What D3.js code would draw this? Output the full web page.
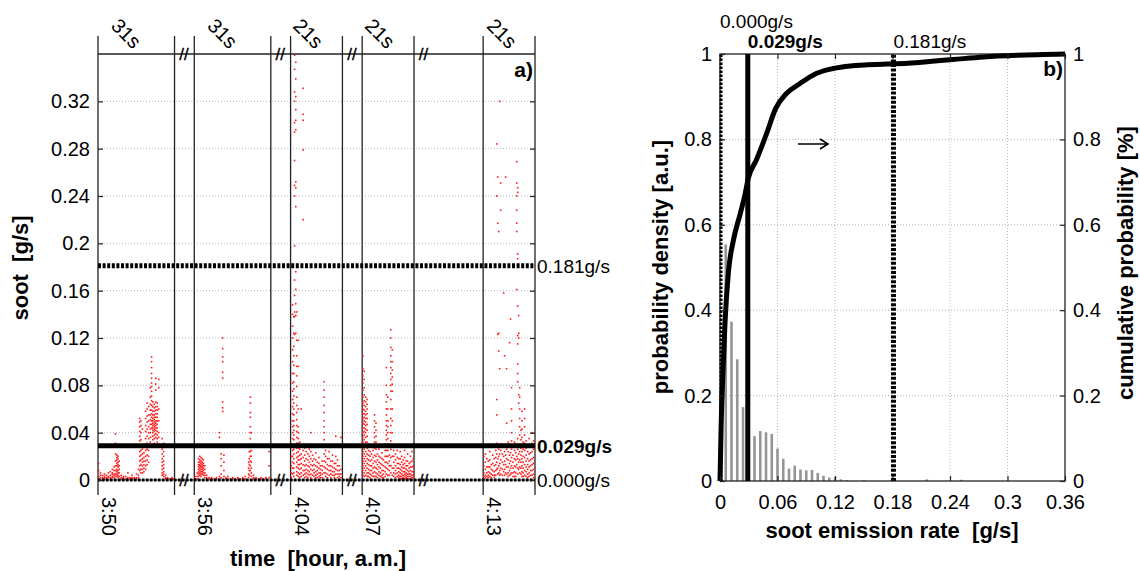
<!DOCTYPE html>
<html><head><meta charset="utf-8">
<script src="https://cdn.jsdelivr.net/npm/d3@7"></script>
<style>html,body{margin:0;padding:0;background:#fff;}svg{display:block;font-family:"Liberation Sans",Arial,sans-serif;}</style>
</head><body><svg id="c" width="1140" height="571"></svg>
<script>
// ---------------- DATA ----------------
const segDurations = [31, 31, 21, 21, 21];
const segDurationLabels = ["31s", "31s", "21s", "21s", "21s"];
const segStartLabels = ["3:50", "3:56", "4:04", "4:07", "4:13"];
const sootTicks = [0, 0.04, 0.08, 0.12, 0.16, 0.2, 0.24, 0.28, 0.32];
const thresholdValues = [0.181, 0.029, 0.000];
const thresholdLabels = ["0.181g/s", "0.029g/s", "0.000g/s"];

// each column: [seconds from segment start, soot values (g/s)...]
const seg1 = [
[0.3,.014,.008,.003,.001],[1.0,.004,.002,.006],[1.8,.002,.001,.004],[2.6,.003,.001,.005,.002],
[3.4,.002,.004,.001],[4.2,.006,.002,.003],[5.0,.004,.001,.007,.002],[5.8,.003,.006,.009,.002,.005],
[6.5,.005,.008,.004,.011,.002],[7.1,.039,.031,.022,.016,.012,.008,.005,.003],
[7.6,.021,.019,.017,.014,.012,.009,.007,.005,.003],[8.1,.02,.018,.015,.013,.011,.008,.006,.004,.002],
[8.6,.016,.012,.009,.006,.003],[9.4,.004,.002,.001],[10.3,.002,.001,.003],[11.2,.001,.003],
[12.1,.006,.002,.001],[13.0,.002,.001],[13.8,.001,.004,.002],[14.7,.002,.001],[15.6,.005,.002,.001],
[16.4,.009,.004,.002],[16.9,.052,.049,.045,.041,.037,.033,.028,.024,.02,.016,.012,.008],
[17.4,.05,.046,.04,.034,.029,.025,.021,.017,.013,.009,.006],[18.0,.043,.03,.026,.022,.018,.015,.012,.009,.006],
[18.6,.028,.023,.019,.016,.013,.01,.007],[19.3,.058,.052,.046,.041,.035,.03,.025,.02,.016,.012,.009],
[19.9,.065,.06,.054,.049,.043,.037,.031,.026,.021,.017,.013],[20.5,.062,.055,.05,.045,.04,.035,.03,.025,.02,.015],
[21.2,.078,.07,.064,.059,.055,.051,.047,.043,.04,.036,.032,.028],
[21.7,.104,.1,.095,.09,.086,.082,.079,.075,.071,.067,.063,.059,.056,.053,.05,.047,.044],
[22.2,.066,.062,.058,.055,.052,.05,.048,.046,.044,.042,.04,.037,.034],
[22.8,.064,.061,.058,.055,.053,.051,.049,.047,.045,.043,.041,.038,.035,.031],
[23.4,.086,.081,.076,.066,.062,.059,.056,.053,.05,.048,.046,.044,.042,.039,.036],
[24.0,.065,.062,.059,.056,.053,.05,.047,.044,.041,.038,.035,.032],[24.6,.085,.078,.06,.05,.04,.036,.03],
[26.0,.035,.03,.026,.022,.018,.015,.012,.009,.006,.004],[26.6,.031,.028,.024,.02,.016,.013,.01,.007,.005,.003],
[27.4,.004,.002,.001],[28.2,.001,.002],[29.1,.001],[30.0,.001,.002],[30.7,.001]
];
const seg2 = [
[0.4,.003,.001],[1.2,.006,.003,.001],[1.7,.018,.015,.013,.011,.009,.007,.005,.003],
[2.2,.02,.017,.015,.013,.012,.01,.008,.006,.004],[2.7,.019,.016,.014,.012,.011,.009,.007,.005,.003],
[3.2,.018,.015,.013,.011,.009,.007,.005],[3.7,.017,.014,.012,.01,.008,.006,.004],[4.3,.012,.009,.006,.004,.002],
[5.0,.004,.002,.001],[6.0,.002,.001],[7.0,.001,.002],[8.0,.001],[9.0,.002,.001],[10.2,.04,.036,.003,.001],
[10.9,.022,.018,.012,.005,.002],[11.5,.12,.111,.104,.1,.091,.086,.066,.061,.058],[12.0,.021,.015,.008,.003],
[12.8,.002,.001],[13.6,.001,.003],[14.6,.001],[15.6,.002,.001],[16.6,.001],[17.6,.002,.001],[18.6,.001],
[19.6,.001,.002],[20.6,.003,.001],[22.0,.015,.01,.005,.002],[22.3,.03,.024,.018,.013,.008,.004],
[22.7,.07,.065,.057,.053,.045,.04,.035,.028,.024,.02,.016,.012,.008],[23.1,.04,.03,.025,.02,.015,.01,.006,.003],
[24.0,.004,.002,.001],[25.0,.001,.002],[26.0,.001],[27.0,.001,.002],[28.0,.001],[29.0,.002,.001],[30.3,.024,.012,.002]
];
const seg3 = [
[0.3,.03,.02,.012,.006,.002],
[0.8,.148,.14,.13,.12,.11,.1,.09,.082,.075,.068,.062,.056,.05,.045,.04,.035,.03,.025,.02,.015,.01,.005],
[1.3,.138,.124,.113,.105,.097,.09,.083,.077,.071,.065,.06,.055,.05,.046,.042,.038,.034,.03,.026,.022,.018,.014,.01,.006,.003],
[1.6,.359,.347,.328,.32,.302,.294,.27,.249,.24,.198,.169,.156,.142,.138,.123],
[2.1,.353,.339,.324,.313,.304,.296,.252,.247,.231,.176,.161,.149,.139,.124],
[2.5,.142,.118,.105,.096,.088,.079,.07,.063,.057,.051,.046,.041,.036,.031,.027,.023,.019,.015,.011,.007,.004],
[3.1,.118,.096,.06,.045,.04,.035,.031,.027,.024,.02,.017,.013,.01,.006,.003],
[3.7,.032,.026,.021,.017,.013,.009,.005,.002],[4.3,.06,.028,.022,.018,.014,.01,.006,.003],
[5.1,.331,.309,.304,.279,.22,.025,.019,.013,.008,.004],[5.7,.027,.021,.016,.012,.008,.005,.002],
[6.3,.03,.024,.018,.013,.009,.006,.003],[7.0,.022,.017,.012,.008,.005,.002],[7.6,.026,.02,.015,.011,.007,.004],
[8.2,.04,.024,.018,.013,.009,.005,.002],[8.9,.021,.016,.012,.008,.004],[9.5,.018,.013,.009,.006,.003],
[10.2,.023,.017,.012,.007,.004,.002],[10.8,.015,.011,.008,.005,.002],[11.5,.019,.014,.01,.006,.003],
[12.1,.012,.009,.006,.004,.002],[12.8,.016,.012,.008,.005,.002],
[13.6,.083,.076,.07,.063,.057,.05,.045,.04,.034,.028,.022,.016,.011,.006],
[14.2,.025,.02,.015,.01,.006,.003],[14.9,.018,.013,.009,.005,.002],[15.6,.024,.018,.012,.008,.004],
[16.3,.016,.012,.008,.005,.002],[17.0,.021,.016,.011,.007,.004],[17.7,.014,.01,.007,.004,.002],
[18.3,.037,.028,.02,.014,.009,.005],[19.0,.017,.012,.008,.005,.002],[19.7,.012,.008,.005,.003],[20.4,.036,.009,.005,.002]
];
const seg4 = [
[0.3,.105,.094,.088,.082,.076,.07,.065,.06,.056,.052,.048,.044,.04,.036,.032,.028,.024,.02,.016,.012,.008,.004],
[0.8,.092,.085,.078,.072,.067,.063,.059,.056,.053,.05,.047,.044,.041,.038,.034,.03,.026,.022,.018,.014,.01,.006,.003],
[1.4,.07,.066,.062,.058,.055,.052,.049,.046,.043,.04,.036,.032,.028,.024,.02,.016,.012,.008,.004],
[2.0,.068,.064,.06,.056,.052,.047,.042,.037,.032,.027,.022,.018,.014,.01,.006,.003],
[2.6,.03,.025,.021,.017,.013,.009,.006,.003],[3.2,.024,.02,.016,.012,.008,.005,.002],
[3.8,.028,.022,.017,.012,.008,.004],[4.4,.025,.019,.014,.01,.006,.003],
[5.0,.055,.05,.045,.04,.036,.032,.027,.021,.016,.011,.007,.003],[5.6,.048,.042,.037,.032,.026,.02,.015,.01,.006,.003],
[6.2,.022,.017,.013,.009,.005,.002],[6.8,.026,.02,.015,.011,.007,.004],[7.4,.019,.014,.01,.006,.003],
[8.0,.023,.018,.013,.008,.004,.002],[8.6,.017,.012,.008,.005,.002],[9.3,.03,.025,.02,.015,.011,.007,.003],
[9.8,.095,.08,.072,.066,.06,.055,.05,.046,.042,.038,.034,.03,.025,.02,.015,.01,.005],
[10.4,.07,.06,.05,.045,.04,.035,.03,.025,.02,.014,.009,.004],[11.0,.021,.016,.012,.008,.004],
[11.6,.127,.12,.112,.105,.1,.095,.09,.085,.08,.075,.068,.06,.052,.046,.04,.033,.026,.019,.012,.006],
[12.2,.11,.1,.093,.087,.081,.075,.06,.05,.04,.03,.02,.01,.004],[12.8,.025,.02,.015,.01,.006,.003],
[13.5,.022,.017,.012,.008,.005,.002],[14.2,.025,.019,.014,.01,.006,.003],[14.8,.018,.014,.01,.007,.004,.002],
[15.4,.024,.018,.013,.009,.006,.003,.001],[16.0,.02,.015,.011,.008,.005,.003,.001],
[16.6,.017,.013,.01,.007,.004,.002,.001],[17.2,.025,.019,.014,.01,.007,.005,.003,.001],
[17.8,.016,.012,.009,.006,.004,.002,.001],[18.4,.022,.016,.012,.008,.005,.003,.001],
[19.0,.014,.01,.007,.005,.003,.001],[19.6,.02,.015,.011,.008,.005,.003,.001],
[20.2,.024,.016,.011,.007,.004,.002],[20.7,.018,.012,.007,.004,.002]
];
const seg5 = [
[0.3,.02,.012,.006,.003,.001],[0.9,.022,.015,.009,.004,.002],[1.5,.028,.018,.011,.006,.003],
[2.1,.016,.011,.007,.004,.002],[2.7,.024,.017,.011,.006,.003],[3.3,.013,.009,.005,.002],
[3.9,.03,.021,.014,.008,.004],[4.5,.018,.012,.007,.004,.002],[5.1,.025,.019,.013,.008,.004],
[5.5,.284,.24,.068,.055,.031,.022,.015,.009],[5.9,.256,.217,.123,.028,.018,.01,.005],
[6.3,.21,.124,.109,.026,.02,.012,.006],[6.7,.32,.094,.03,.022,.014,.008,.004],[7.1,.251,.228,.025,.017,.01,.005],
[7.8,.03,.022,.015,.009,.004],[8.3,.158,.028,.02,.013,.007],[8.7,.105,.024,.016,.009,.004],
[9.1,.256,.03,.021,.013,.006],[9.5,.094,.048,.026,.018,.011,.005],[10.1,.032,.024,.017,.011,.006,.003],
[10.7,.116,.029,.021,.014,.008,.004],[11.1,.136,.03,.023,.016,.01,.005],
[11.5,.078,.06,.05,.04,.033,.026,.019,.012,.006],[12.1,.028,.021,.015,.01,.006,.003],
[12.7,.032,.025,.018,.012,.007,.003],[13.2,.03,.023,.017,.011,.006,.003],
[13.6,.269,.251,.24,.228,.217,.21,.161,.028,.02,.013],
[14.0,.247,.243,.191,.187,.147,.122,.115,.098,.09,.083,.035,.026,.018,.01,.005],
[14.4,.139,.124,.12,.072,.065,.03,.022,.015,.009],[14.8,.078,.07,.06,.052,.045,.038,.03,.024,.017,.011,.006],
[15.3,.042,.034,.027,.021,.015,.01,.005],[15.7,.058,.05,.043,.036,.03,.024,.018,.012,.007,.003],
[16.2,.032,.026,.02,.015,.01,.006,.003],[16.8,.06,.052,.045,.038,.031,.025,.019,.013,.008,.004],
[17.4,.033,.027,.021,.016,.011,.007,.003],[18.0,.03,.024,.018,.013,.009,.005,.002],
[18.6,.035,.028,.022,.016,.011,.006,.003],[19.2,.029,.023,.017,.012,.008,.004],
[19.8,.04,.031,.024,.018,.013,.008,.004],[20.4,.033,.026,.019,.014,.009,.005,.002]
];
const segments = [seg1, seg2, seg3, seg4, seg5];

// panel b
const rateTicks = [0, 0.06, 0.12, 0.18, 0.24, 0.3, 0.36];
const probTicks = [0, 0.2, 0.4, 0.6, 0.8, 1];
const histRate = [0.006,0.012,0.018,0.024,0.036,0.042,0.048,0.054,0.060,0.066,0.072,0.078,0.084,0.090,0.096,0.102,0.108,0.114,0.120,0.126,0.132,0.150,0.216,0.252];
const histDensity = [0.554,0.373,0.285,0.173,0.105,0.117,0.114,0.110,0.076,0.052,0.029,0.036,0.027,0.025,0.026,0.019,0.012,0.008,0.009,0.004,0.002,0.002,0.004,0.003];
const cumRate = [0,0.0012,0.003,0.0052,0.0087,0.014,0.021,0.026,0.0295,0.038,0.0487,0.058,0.0696,0.0835,0.101,0.118,0.136,0.17,0.183,0.2,0.216,0.243,0.275,0.31,0.36];
const cumProb = [0,0.13,0.25,0.37,0.487,0.564,0.625,0.67,0.709,0.752,0.814,0.872,0.908,0.931,0.955,0.966,0.972,0.976,0.977,0.979,0.982,0.987,0.993,0.997,1.0];
const vLineValues = [0.000, 0.029, 0.181];
const vLineLabels = ["0.000g/s", "0.029g/s", "0.181g/s"];

// ---------------- LAYOUT ----------------
const svg = d3.select("#c");
const FONT = "'Liberation Sans', Arial, sans-serif";
const gapSeconds = [8, 8, 8, 28];
const segStart = [];
{ let acc = 0; segDurations.forEach((d, i) => { segStart.push(acc); acc += d + (gapSeconds[i] || 0); }); }
const totalSec = segStart[segStart.length - 1] + segDurations[segDurations.length - 1];

const xA = d3.scaleLinear().domain([0, totalSec]).range([98, 535]);
const yA = d3.scaleLinear().domain([0, 0.36]).range([480, 54]);

const gA = svg.append("g");
gA.selectAll("line.grid").data(sootTicks.filter(d => d > 0)).join("line")
  .attr("x1", xA(0)).attr("x2", xA(totalSec)).attr("y1", d => yA(d)).attr("y2", d => yA(d))
  .attr("stroke", "#b5b5b5").attr("stroke-width", 1).attr("stroke-dasharray", "1,2");

const bounds = [];
segDurations.forEach((d, i) => { bounds.push(segStart[i]); bounds.push(segStart[i] + d); });
gA.selectAll("line.seg").data(bounds).join("line")
  .attr("x1", d => xA(d)).attr("x2", d => xA(d)).attr("y1", 36).attr("y2", 495)
  .attr("stroke", "#222").attr("stroke-width", 1.3);

const pts = [];
segments.forEach((seg, i) => seg.forEach(col => col.slice(1).forEach(v => pts.push([segStart[i] + col[0], v]))));
gA.selectAll("rect.pt").data(pts).join("rect")
  .attr("x", d => xA(d[0]) - 0.8).attr("y", d => yA(d[1]) - 0.8)
  .attr("width", 1.6).attr("height", 1.6).attr("fill", "#ff1a1a");

gA.append("line").attr("x1", xA(0)).attr("x2", xA(totalSec)).attr("y1", yA(0.36)).attr("y2", yA(0.36)).attr("stroke", "#222").attr("stroke-width", 1.3);
gA.append("line").attr("x1", xA(0)).attr("x2", xA(totalSec)).attr("y1", yA(0)).attr("y2", yA(0)).attr("stroke", "#222").attr("stroke-width", 1);

const thrStyle = [{w: 5, dash: "3,1.6", bold: false}, {w: 5, dash: null, bold: true}, {w: 3, dash: "2.5,1.5", bold: false}];
thresholdValues.forEach((v, i) => {
  gA.append("line").attr("x1", xA(0)).attr("x2", xA(totalSec)).attr("y1", yA(v)).attr("y2", yA(v))
    .attr("stroke", "#000").attr("stroke-width", thrStyle[i].w).attr("stroke-dasharray", thrStyle[i].dash);
  gA.append("text").attr("x", 537).attr("y", yA(v)).attr("dy", "0.36em")
    .attr("font-size", 19).attr("font-family", FONT).attr("font-weight", thrStyle[i].bold ? "bold" : "normal")
    .text(thresholdLabels[i]);
});

const axL = gA.append("g").attr("transform", `translate(${xA(0)},0)`)
  .call(d3.axisLeft(yA).tickValues(sootTicks).tickFormat(d3.format("~g")).tickSize(-5).tickPadding(8));
const axR = gA.append("g").attr("transform", `translate(${xA(totalSec)},0)`)
  .call(d3.axisRight(yA).tickValues(sootTicks).tickFormat("").tickSize(-5));
[axL, axR].forEach(a => { a.select(".domain").remove(); a.selectAll(".tick line").attr("stroke", "#222").attr("stroke-width", 1.2); });
axL.attr("font-size", 20).attr("font-family", FONT);
axL.selectAll("text").attr("fill", "#000");

gapSeconds.forEach((g, i) => {
  const gx = xA(segStart[i] + segDurations[i]) + 9.5;
  [yA(0.36), yA(0)].forEach(yy => {
    gA.append("text").attr("x", gx).attr("y", yy).attr("dy", "0.36em").attr("text-anchor", "middle")
      .attr("font-size", 17).attr("font-family", FONT).attr("stroke", "#000").attr("stroke-width", 0.3).text("//");
  });
});

const topDx = [12, 12, 1.5, 1.5, 2.5];
segDurationLabels.forEach((t, i) => {
  gA.append("text").attr("transform", `translate(${xA(segStart[i]) + topDx[i]},27) rotate(45)`)
    .attr("font-size", 20).attr("font-family", FONT).text(t);
});
segStartLabels.forEach((t, i) => {
  gA.append("text").attr("transform", `translate(${xA(segStart[i]) + 4},497) rotate(90)`)
    .attr("font-size", 20).attr("font-family", FONT).text(t);
});

gA.append("text").attr("x", 533).attr("y", 77).attr("text-anchor", "end").attr("font-size", 21)
  .attr("font-weight", "bold").attr("font-family", FONT).text("a)");
gA.append("text").attr("transform", "translate(28,268) rotate(-90)").attr("text-anchor", "middle")
  .attr("font-size", 22).attr("font-weight", "bold").attr("font-family", FONT)
  .attr("xml:space", "preserve").style("white-space", "pre").text("soot  [g/s]");
gA.append("text").attr("x", 318).attr("y", 566).attr("text-anchor", "middle")
  .attr("font-size", 22).attr("font-weight", "bold").attr("font-family", FONT)
  .attr("xml:space", "preserve").style("white-space", "pre").text("time  [hour, a.m.]");

// ---------------- PANEL B ----------------
const xB = d3.scaleLinear().domain([0, 0.36]).range([720, 1065]);
const yB = d3.scaleLinear().domain([0, 1]).range([481, 54]);
const gB = svg.append("g");

gB.selectAll("line.gx").data(rateTicks.filter(d => d > 0 && d < 0.36)).join("line")
  .attr("x1", d => xB(d)).attr("x2", d => xB(d)).attr("y1", yB(0)).attr("y2", yB(1))
  .attr("stroke", "#b5b5b5").attr("stroke-dasharray", "1,2");
gB.selectAll("line.gy").data(probTicks.filter(d => d > 0 && d < 1)).join("line")
  .attr("x1", xB(0)).attr("x2", xB(0.36)).attr("y1", d => yB(d)).attr("y2", d => yB(d))
  .attr("stroke", "#b5b5b5").attr("stroke-dasharray", "1,2");

gB.selectAll("rect.bar").data(histRate.map((r, i) => [r, histDensity[i]])).join("rect")
  .attr("x", d => xB(d[0]) - 1.3).attr("width", 2.6)
  .attr("y", d => yB(d[1])).attr("height", d => yB(0) - yB(d[1]))
  .attr("fill", "#959595");

gB.append("rect").attr("x", xB(0)).attr("y", yB(1)).attr("width", xB(0.36) - xB(0)).attr("height", yB(0) - yB(1))
  .attr("fill", "none").attr("stroke", "#222").attr("stroke-width", 1.3);

const vStyle = [{w: 3, dash: "2.5,1.5", bold: false, y: 28}, {w: 5, dash: null, bold: true, y: 48}, {w: 5, dash: "3,1.6", bold: false, y: 48}];
vLineValues.forEach((v, i) => {
  gB.append("line").attr("x1", xB(v) + (i === 0 ? 1 : 0)).attr("x2", xB(v) + (i === 0 ? 1 : 0)).attr("y1", yB(0)).attr("y2", yB(1))
    .attr("stroke", "#000").attr("stroke-width", vStyle[i].w).attr("stroke-dasharray", vStyle[i].dash);
  gB.append("text").attr("x", xB(v)).attr("y", vStyle[i].y).attr("font-size", 19).attr("font-family", FONT)
    .attr("font-weight", vStyle[i].bold ? "bold" : "normal").text(vLineLabels[i]);
});

const line = d3.line().x(d => xB(d[0])).y(d => yB(d[1])).curve(d3.curveMonotoneX);
gB.append("path").datum(cumRate.map((r, i) => [r, cumProb[i]])).attr("d", line)
  .attr("fill", "none").attr("stroke", "#000").attr("stroke-width", 5).attr("stroke-linejoin", "round");

gB.append("path").attr("d", "M798,144H828M820,139L828,144L820,149").attr("fill", "none").attr("stroke", "#000").attr("stroke-width", 1.6);

const bL = gB.append("g").attr("transform", `translate(${xB(0)},0)`)
  .call(d3.axisLeft(yB).tickValues(probTicks).tickFormat(d3.format("~g")).tickSize(-5).tickPadding(8));
const bR = gB.append("g").attr("transform", `translate(${xB(0.36)},0)`)
  .call(d3.axisRight(yB).tickValues(probTicks).tickFormat(d3.format("~g")).tickSize(-5).tickPadding(8));
const bBot = gB.append("g").attr("transform", `translate(0,${yB(0)})`)
  .call(d3.axisBottom(xB).tickValues(rateTicks).tickFormat(d3.format("~g")).tickSize(-5).tickPadding(14));
const bTop = gB.append("g").attr("transform", `translate(0,${yB(1)})`)
  .call(d3.axisTop(xB).tickValues(rateTicks).tickFormat("").tickSize(-5));
[bL, bR, bBot, bTop].forEach(a => {
  a.select(".domain").remove();
  a.selectAll(".tick line").attr("stroke", "#222").attr("stroke-width", 1.2);
  a.attr("font-size", 20).attr("font-family", FONT);
  a.selectAll("text").attr("fill", "#000");
});

gB.append("text").attr("x", 1063).attr("y", 76).attr("text-anchor", "end").attr("font-size", 21)
  .attr("font-weight", "bold").attr("font-family", FONT).text("b)");
gB.append("text").attr("transform", "translate(668,267) rotate(-90)").attr("text-anchor", "middle")
  .attr("font-size", 22).attr("font-weight", "bold").attr("font-family", FONT).text("probability density [a.u.]");
gB.append("text").attr("transform", "translate(1133,263) rotate(-90)").attr("text-anchor", "middle")
  .attr("font-size", 22).attr("font-weight", "bold").attr("font-family", FONT).text("cumulative probability [%]");
gB.append("text").attr("x", 892).attr("y", 538).attr("text-anchor", "middle")
  .attr("font-size", 22).attr("font-weight", "bold").attr("font-family", FONT)
  .attr("xml:space", "preserve").style("white-space", "pre").text("soot emission rate  [g/s]");
</script></body></html>
